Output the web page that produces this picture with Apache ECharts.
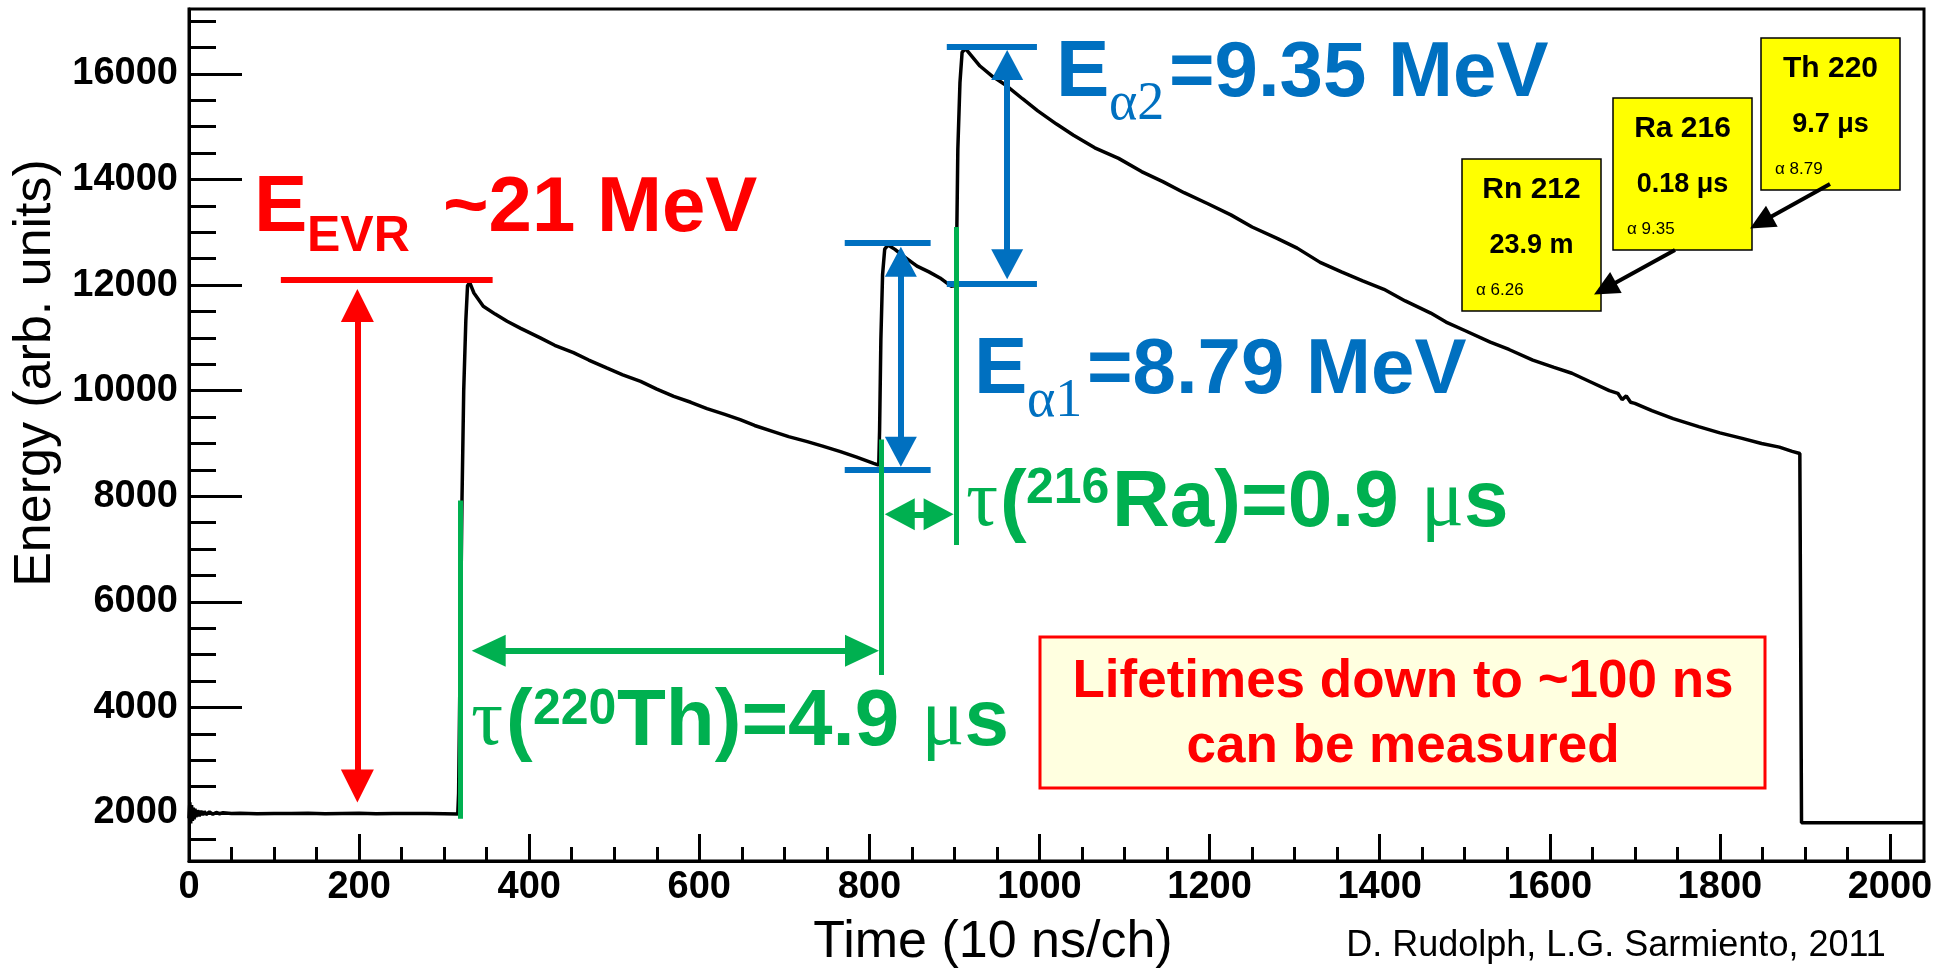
<!DOCTYPE html>
<html lang="en">
<head>
<meta charset="UTF-8" />
<title>Th-220 decay chain trace</title>
<script src="https://cdn.jsdelivr.net/npm/echarts@6/dist/echarts.min.js"></script>
<style>
  html, body { margin: 0; padding: 0; background: #fff; }
  #container { width: 1939px; height: 971px; }
</style>
</head>
<body>
<div id="container"></div>
<script>
const SANS = '"Liberation Sans", Arial, sans-serif';
const SERIF = '"Liberation Serif", "Times New Roman", serif';
const RED = '#ff0000', GREEN = '#00b050', BLUE = '#0070c0';

// trace: time in channels (10 ns/ch), energy in arb. units
const baseTime = [0, 1, 2, 3, 4, 5, 6, 7, 8, 10, 12, 14, 16, 18, 20, 24, 28, 32, 36, 40,
  50, 60, 80, 100, 120, 140, 160, 180, 200, 220, 240, 260, 280, 300, 316];
const baseEnergy = [1900, 2200, 1800, 2150, 1850, 2100, 1880, 2080, 1920, 2050, 1940, 2040, 1960, 2030, 1970, 2020, 1975, 2010, 1985, 2005,
  1990, 1995, 1985, 1992, 1988, 1995, 1985, 1990, 1995, 1985, 1992, 1988, 1990, 1985, 1980];

const pulse1Time = [317, 321, 323, 325.5, 327.5, 330, 335, 346, 360, 374, 390, 413, 430, 452, 470, 491, 510,
  531, 550, 570, 590, 609, 630, 648, 665, 687, 705, 727, 745, 766, 785, 805, 811];
const pulse1Energy = [2370, 7950, 10000, 11330, 11990, 12050, 11850, 11600, 11450, 11315, 11180, 11000, 10860, 10720, 10580, 10430, 10300,
  10175, 10030, 9890, 9780, 9660, 9550, 9450, 9340, 9225, 9130, 9035, 8950, 8845, 8740, 8624, 8590];

const pulse2Time = [812, 813.5, 815.5, 818, 822, 830, 840, 856, 870, 883, 896, 902];
const pulse2Energy = [9260, 10970, 12200, 12680, 12760, 12676, 12550, 12360, 12250, 12135, 11980, 11990];

const pulse3Time = [903, 904, 906.5, 909, 913, 930, 945, 961, 980, 998, 1020, 1040, 1065, 1093, 1120, 1145, 1170,
  1198, 1225, 1250, 1280, 1303, 1330, 1355, 1380, 1405, 1430, 1460, 1478, 1500, 1530, 1552, 1580, 1605, 1626,
  1650, 1670, 1680, 1685, 1690, 1695, 1700, 1720, 1745, 1775, 1800, 1825, 1849, 1870, 1885, 1894];
const pulse3Energy = [11990, 14580, 15840, 16410, 16480, 16150, 15950, 15780, 15530, 15300, 15050, 14840, 14600, 14400, 14150, 13960, 13750,
  13540, 13330, 13100, 12880, 12700, 12430, 12250, 12080, 11920, 11700, 11470, 11300, 11140, 10920, 10780, 10580, 10440, 10330,
  10150, 10000, 9950, 9830, 9900, 9780, 9760, 9620, 9470, 9320, 9200, 9100, 9000, 8930, 8850, 8810];

const tailTime = [1895, 1896, 2040];
const tailEnergy = [8800, 1815, 1815];

// axis ticks
const xMajor = [0, 200, 400, 600, 800, 1000, 1200, 1400, 1600, 1800, 2000];
const xMinor = [50, 100, 150, 250, 300, 350, 450, 500, 550, 650, 700, 750, 850, 900, 950, 1050, 1100, 1150,
  1250, 1300, 1350, 1450, 1500, 1550, 1650, 1700, 1750, 1850, 1900, 1950];
const yMajor = [2000, 4000, 6000, 8000, 10000, 12000, 14000, 16000];
const yMinor = [1500, 2500, 3000, 3500, 4500, 5000, 5500, 6500, 7000, 7500, 8500, 9000, 9500, 10500, 11000, 11500,
  12500, 13000, 13500, 14500, 15000, 15500, 16500, 17000];

// annotation marks, in data units
const evrBar = [[108, 12096], [357, 12096]];
const evrArrow = [[198, 11612], [198, 2509]];
const alpha1Bars = [[[771, 12810], [872, 12810]], [[771, 8510], [872, 8510]]];
const alpha1Arrow = [[837, 12443], [837, 8843]];
const alpha2Bars = [[[891, 16515], [997, 16515]], [[891, 12033], [997, 12033]]];
const alpha2Arrow = [[962, 16169], [962, 12393]];
const greenMarkers = [[[319, 7921], [319, 1891]], [[813.6, 9075], [813.6, 4613]], [[901.6, 13100], [901.6, 7076]]];
const thLifeArrow = [[352.4, 5074], [791.3, 5074]];
const raLifeArrow = [[835.7, 7658], [881.4, 7658]];

// decay chain boxes
const isotopes = ['Rn 212', 'Ra 216', 'Th 220'];
const halfLives = ['23.9 m', '0.18 μs', '9.7 μs'];
const alphaLines = ['α 6.26', 'α 9.35', 'α 8.79'];

function zip(t, e) { return t.map((v, i) => [v, e[i]]); }
const trace = [].concat(zip(baseTime, baseEnergy), zip(pulse1Time, pulse1Energy),
  zip(pulse2Time, pulse2Energy), zip(pulse3Time, pulse3Energy), zip(tailTime, tailEnergy));

function seg(p, color, width, arrow) {
  const s = arrow ? { symbol: 'triangle', symbolSize: arrow } : { symbol: 'none' };
  return [
    Object.assign({ coord: p[0], lineStyle: { color: color, width: width, type: 'solid' } }, s),
    Object.assign({ coord: p[1] }, s)
  ];
}

const marks = [
  seg(alpha1Bars[0], BLUE, 6), seg(alpha1Bars[1], BLUE, 6), seg(alpha1Arrow, BLUE, 6, [32, 30]),
  seg(alpha2Bars[0], BLUE, 6), seg(alpha2Bars[1], BLUE, 6), seg(alpha2Arrow, BLUE, 6, [32, 30]),
  seg(evrBar, RED, 6), seg(evrArrow, RED, 6, [33, 33]),
  seg(greenMarkers[0], GREEN, 5), seg(greenMarkers[1], GREEN, 5), seg(greenMarkers[2], GREEN, 5),
  seg(thLifeArrow, GREEN, 6, [32, 34]), seg(raLifeArrow, GREEN, 6, [32, 30])
];

function label(x, y, text, font, color, align) {
  return { type: 'text', x: x, y: y, z: 100,
    style: { text: text, font: font, fill: color, align: align || 'left', verticalAlign: 'middle' } };
}
function lifeLabel(x, y, text, color) {
  return { type: 'text', x: x, y: y, z: 100,
    style: { text: '{b|' + text + '}{m|μ}{b|s}', align: 'left', verticalAlign: 'middle',
      rich: { b: { font: 'bold 80px ' + SANS, fill: color }, m: { font: '80px ' + SERIF, fill: color } } } };
}
function calloutArrow(x1, y1, x2, y2) {
  const dx = x2 - x1, dy = y2 - y1, len = Math.hypot(dx, dy);
  const ux = dx / len, uy = dy / len, hl = 25, hw = 12;
  const bx = x2 - ux * hl, by = y2 - uy * hl;
  return [
    { type: 'line', z: 100, shape: { x1: x1, y1: y1, x2: bx + ux * 2, y2: by + uy * 2 }, style: { stroke: '#000', lineWidth: 4 } },
    { type: 'polygon', z: 100, shape: { points: [[x2, y2], [bx - uy * hw, by + ux * hw], [bx + uy * hw, by - ux * hw]] }, style: { fill: '#000' } }
  ];
}

const graphics = [
  label(254, 209, 'E', 'bold 80px ' + SANS, RED),
  label(307, 237, 'EVR', 'bold 50px ' + SANS, RED),
  label(443, 209, '~21 MeV', 'bold 78px ' + SANS, RED),

  label(1056, 74, 'E', 'bold 80px ' + SANS, BLUE),
  label(1109, 105, 'α2', '54px ' + SERIF, BLUE),
  label(1169, 74, '=9.35 MeV', 'bold 78px ' + SANS, BLUE),
  label(974, 371, 'E', 'bold 80px ' + SANS, BLUE),
  label(1027, 402, 'α1', '54px ' + SERIF, BLUE),
  label(1087, 371, '=8.79 MeV', 'bold 78px ' + SANS, BLUE),

  label(471, 723, 'τ', '80px ' + SERIF, GREEN),
  label(506, 723, '(', 'bold 80px ' + SANS, GREEN),
  label(533, 710, '220', 'bold 50px ' + SANS, GREEN),
  lifeLabel(617, 723, 'Th)=4.9 ', GREEN),
  label(966, 504, 'τ', '80px ' + SERIF, GREEN),
  label(1000, 504, '(', 'bold 80px ' + SANS, GREEN),
  label(1026, 489, '216', 'bold 50px ' + SANS, GREEN),
  lifeLabel(1112, 504, 'Ra)=0.9 ', GREEN),

  { type: 'rect', z: 99, shape: { x: 1040, y: 637, width: 725, height: 151 },
    style: { fill: '#ffffe0', stroke: RED, lineWidth: 3 } },
  label(1403, 682, 'Lifetimes down to ~100 ns', 'bold 53px ' + SANS, RED, 'center'),
  label(1403, 747, 'can be measured', 'bold 53px ' + SANS, RED, 'center'),

  label(1616, 946, 'D. Rudolph, L.G. Sarmiento, 2011', '36px ' + SANS, '#000', 'center')
];

// yellow decay-chain boxes, left to right
const boxLeft = [1462, 1613, 1761], boxTop = [159, 98, 38];
isotopes.forEach(function (name, i) {
  const x = boxLeft[i], y = boxTop[i];
  graphics.push({ type: 'rect', z: 99, shape: { x: x, y: y, width: 139, height: 152 },
    style: { fill: '#ffff00', stroke: '#000', lineWidth: 1.5 } });
  graphics.push(label(x + 69.5, y + 31, name, 'bold 30px ' + SANS, '#000', 'center'));
  graphics.push(label(x + 69.5, y + 87, halfLives[i], 'bold 27px ' + SANS, '#000', 'center'));
  graphics.push(label(x + 14, y + 131, alphaLines[i], '17px ' + SANS, '#000', 'left'));
});
graphics.push.apply(graphics, calloutArrow(1830, 184, 1750, 228.5));
graphics.push.apply(graphics, calloutArrow(1675, 250, 1594, 294.5));

const plain = function (v) { return String(v); };

const chart = echarts.init(document.getElementById('container'));
chart.setOption({
  animation: false,
  backgroundColor: '#fff',
  textStyle: { fontFamily: SANS },
  grid: { left: 189, right: 15, top: 9, bottom: 110, show: true, borderColor: '#000', borderWidth: 3,
    containLabel: false, outerBoundsMode: 'none' },
  xAxis: [
    { type: 'value', min: 0, max: 2040, position: 'bottom',
      axisLine: { onZero: false, lineStyle: { color: '#000', width: 3 } },
      axisTick: { inside: true, length: 27, customValues: xMajor, lineStyle: { color: '#000', width: 3 } },
      axisLabel: { customValues: xMajor, formatter: plain, color: '#000', fontSize: 38, fontWeight: 'bold', fontFamily: SANS, margin: 8 },
      splitLine: { show: false },
      name: 'Time (10 ns/ch)', nameLocation: 'middle', nameGap: 56,
      nameTextStyle: { fontSize: 52, color: '#000', fontFamily: SANS, padding: [0, 127, 0, 0] } },
    { type: 'value', min: 0, max: 2040, position: 'bottom',
      axisLine: { show: false }, axisLabel: { show: false }, splitLine: { show: false },
      axisTick: { inside: true, length: 14, customValues: xMinor, lineStyle: { color: '#000', width: 3 } } }
  ],
  yAxis: [
    { type: 'value', min: 1090, max: 17230, position: 'left',
      axisLine: { show: true, onZero: false, lineStyle: { color: '#000', width: 3 } },
      axisTick: { show: true, inside: true, length: 53, customValues: yMajor, lineStyle: { color: '#000', width: 3 } },
      axisLabel: { customValues: yMajor, formatter: plain, color: '#000', fontSize: 38, fontWeight: 'bold', fontFamily: SANS, margin: 11 },
      splitLine: { show: false },
      name: 'Energy (arb. units)', nameLocation: 'middle', nameRotate: 90, nameGap: 122,
      nameTextStyle: { fontSize: 52, color: '#000', fontFamily: SANS, padding: [0, 0, 0, 124] } },
    { type: 'value', min: 1090, max: 17230, position: 'left',
      axisLine: { show: false }, axisLabel: { show: false }, splitLine: { show: false },
      axisTick: { show: true, inside: true, length: 27, customValues: yMinor, lineStyle: { color: '#000', width: 3 } } }
  ],
  series: [{
    name: 'trace', type: 'line', data: trace, xAxisIndex: 0, yAxisIndex: 0,
    showSymbol: false, silent: true,
    lineStyle: { color: '#000', width: 3.5 },
    markLine: { silent: true, animation: false, label: { show: false },
      lineStyle: { type: 'solid' }, emphasis: { disabled: true }, data: marks }
  }],
  graphic: graphics
});
</script>
</body>
</html>
